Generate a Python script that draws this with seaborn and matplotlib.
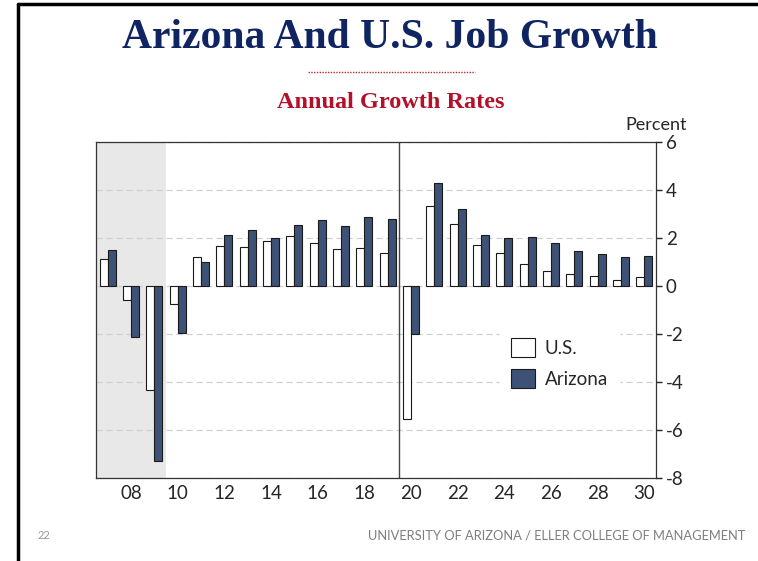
import pandas as pd
import matplotlib.pyplot as plt
import seaborn as sns
from matplotlib.lines import Line2D

# Data (annual growth rates, percent)
years = list(range(2007, 2031))
us_growth = [1.13, -0.56, -4.33, -0.73, 1.23, 1.70, 1.65, 1.88, 2.08, 1.79, 1.56, 1.58,
             1.37, -5.52, 3.33, 2.61, 1.74, 1.39, 0.95, 0.64, 0.50, 0.43, 0.25, 0.40]
az_growth = [1.53, -2.12, -7.30, -1.94, 1.03, 2.12, 2.34, 2.01, 2.55, 2.76, 2.52, 2.90,
             2.79, -2.01, 4.30, 3.24, 2.15, 2.00, 2.06, 1.81, 1.49, 1.34, 1.24, 1.27]
series_names = ["U.S.", "Arizona"]
y_ticks = [-8, -6, -4, -2, 0, 2, 4, 6]
recession = (2007, 2009)
split_year = 2020

df = pd.DataFrame({
    "year": [str(y) for y in years] * 2,
    "series": [series_names[0]] * len(years) + [series_names[1]] * len(years),
    "value": us_growth + az_growth,
})

sns.set_style("white")
plt.rcParams["font.family"] = ["Lato", "DejaVu Sans"]

fig = plt.figure(figsize=(7.58, 5.61), dpi=100)
ax = fig.add_axes([0.1266, 0.148, 0.7388, 0.598])

sns.barplot(data=df, x="year", y="value", hue="series", hue_order=series_names,
            palette=["white", "#34507f"], width=0.69, edgecolor="#1a1a1a",
            linewidth=0.8, ax=ax)

# shaded recession + forecast divider
ax.axvspan(years.index(recession[0]) - 0.5, years.index(recession[1]) + 0.5,
           color="#e8e8e8", zorder=0, lw=0)
ax.axvline(years.index(split_year) - 0.5, color="#444444", lw=1.0)

ax.set_xlim(-0.5, len(years) - 0.5)
ax.set_ylim(-8, 6)

# x: tick marks at year boundaries, labels on even years
ax.set_xticks([i - 0.5 for i in range(len(years) + 1)])
ax.set_xticklabels([])
ax.set_xticks([i for i, y in enumerate(years) if y % 2 == 0], minor=True)
ax.set_xticklabels([f"{y % 100:02d}" for y in years if y % 2 == 0], minor=True)
ax.tick_params(axis="x", which="major", direction="out", length=5, width=1, color="#222222")
ax.tick_params(axis="x", which="minor", length=0, labelsize=13.5, pad=5)
ax.set_xlabel("")

# y on the right
ax.yaxis.tick_right()
ax.set_yticks(y_ticks)
ax.set_yticklabels([str(v) for v in y_ticks])
ax.tick_params(axis="y", direction="out", length=4, width=1, color="#222222",
               labelsize=13.5, pad=3)
ax.set_ylabel("")

ax.set_axisbelow(True)
ax.yaxis.grid(True, color="#d0d0d0", linestyle=(0, (5, 3)), lw=0.9)
for s in ax.spines.values():
    s.set_color("#333333")
    s.set_linewidth(0.9)

leg = ax.legend(loc="center", bbox_to_anchor=(0.828, 0.343), frameon=True,
                fontsize=13.5, handlelength=1.25, handleheight=1.15, handletextpad=0.55,
                labelspacing=0.65, borderpad=0.6)
leg.get_frame().set_facecolor("white")
leg.get_frame().set_edgecolor("white")
leg.get_frame().set_alpha(1)

fig.text(0.866, 0.777, "Percent", ha="center", va="center", fontsize=13)

# titles
fig.text(0.514, 0.932, "Arizona And U.S. Job Growth", ha="center", va="center",
         fontsize=30, fontweight="bold", family="Liberation Serif", color="#0f2460")
fig.add_artist(Line2D([0.406, 0.626], [0.872, 0.872], color="#c0272d", lw=1.0,
                      linestyle=(0, (1, 1))))
fig.text(0.516, 0.818, "Annual Growth Rates", ha="center", va="center",
         fontsize=17.5, fontweight="bold", family="Liberation Serif", color="#b3102a")

# footer
fig.text(0.05, 0.045, "22", ha="left", va="center", fontsize=8, color="#999999")
fig.text(0.983, 0.045, "UNIVERSITY OF ARIZONA / ELLER COLLEGE OF MANAGEMENT",
         ha="right", va="center", fontsize=9.3, color="#7f7f7f")

# slide frame (left and top edges)
fig.add_artist(Line2D([0.0235, 0.0235], [0.0, 0.992], color="black", lw=2.5))
fig.add_artist(Line2D([0.0235, 1.0], [0.992, 0.992], color="black", lw=2.5))

fig.savefig("out.png", dpi=100)
